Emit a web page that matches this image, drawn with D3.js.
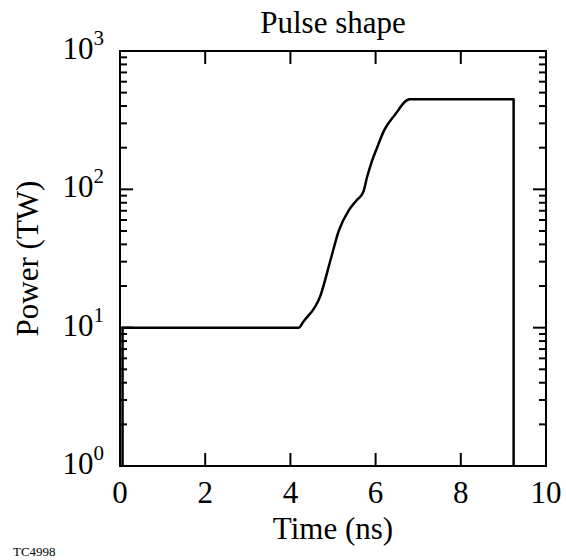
<!DOCTYPE html>
<html>
<head>
<meta charset="utf-8">
<script src="https://cdn.jsdelivr.net/npm/d3@7"></script>
<style>
  body { margin: 0; background: #fff; }
  svg { display: block; }
  text { font-family: "Liberation Serif", "Times New Roman", serif; fill: #000; }
</style>
</head>
<body>
<div id="chart"></div>
<script>
// pulse shape (time in ns, power in TW)
const timeNs = [0.06, 0.06, 4.2, 4.3, 4.71, 4.94, 5.14, 5.37, 5.55, 5.71, 5.80, 5.92, 6.04, 6.20, 6.45, 6.80, 9.24, 9.24];
const powerTW = [1, 10, 10, 11, 17.2, 30.7, 50.6, 70.5, 83, 95.6, 122.7, 162, 202, 267, 345, 447, 447, 1];
const xTicks = [0, 2, 4, 6, 8, 10];
const yDecades = [1, 10, 100, 1000];
const yExponents = ['0', '1', '2', '3'];

const W = 566, H = 560;
const margin = { left: 120, right: 20, top: 51, bottom: 94 };
const innerW = W - margin.left - margin.right;
const innerH = H - margin.top - margin.bottom;

const svg = d3.select('#chart').append('svg')
  .attr('width', W)
  .attr('height', H);

const x = d3.scaleLinear().domain([0, 10]).range([margin.left, margin.left + innerW]);
const y = d3.scaleLog().domain([1, 1000]).range([margin.top + innerH, margin.top]);

const minorTicks = [];
yDecades.slice(0, -1).forEach(d => {
  for (let k = 2; k <= 9; k++) minorTicks.push(d * k);
});

const g = svg.append('g');

// frame
g.append('rect')
  .attr('x', x(0)).attr('y', y(1000))
  .attr('width', x(10) - x(0)).attr('height', y(1) - y(1000))
  .attr('fill', 'none').attr('stroke', '#000').attr('stroke-width', 2);

const majorLen = 13, minorLen = 7;
const tickStroke = sel => sel.attr('stroke', '#000').attr('stroke-width', 2);

// x ticks, inward on bottom and top
const xInner = xTicks.slice(1, -1);
g.selectAll('line.xb').data(xInner).enter().append('line')
  .attr('x1', d => x(d)).attr('x2', d => x(d))
  .attr('y1', y(1)).attr('y2', y(1) - majorLen).call(tickStroke);
g.selectAll('line.xt').data(xInner).enter().append('line')
  .attr('x1', d => x(d)).attr('x2', d => x(d))
  .attr('y1', y(1000)).attr('y2', y(1000) + majorLen).call(tickStroke);

// y ticks, inward on left and right
const yInner = yDecades.slice(1, -1);
[[x(0), 1], [x(10), -1]].forEach(([x0, dir]) => {
  g.selectAll(null).data(yInner).enter().append('line')
    .attr('x1', x0).attr('x2', x0 + dir * majorLen)
    .attr('y1', d => y(d)).attr('y2', d => y(d)).call(tickStroke);
  g.selectAll(null).data(minorTicks).enter().append('line')
    .attr('x1', x0).attr('x2', x0 + dir * minorLen)
    .attr('y1', d => y(d)).attr('y2', d => y(d)).call(tickStroke);
});

// x tick labels
g.selectAll('text.xl').data(xTicks).enter().append('text')
  .attr('x', d => x(d)).attr('y', y(1) + 37)
  .attr('text-anchor', 'middle')
  .style('font-size', '31px')
  .text(d => d);

// y tick labels with superscript
const yl = g.selectAll('text.yl').data(yDecades).enter().append('text')
  .attr('x', x(0) - 16).attr('y', d => y(d) + 8)
  .attr('text-anchor', 'end')
  .style('font-size', '31px');
yl.append('tspan').text('10');
yl.append('tspan').attr('dy', -14).style('font-size', '21px').text((d, i) => yExponents[i]);

// titles
svg.append('text')
  .attr('x', (x(0) + x(10)) / 2).attr('y', 33)
  .attr('text-anchor', 'middle').style('font-size', '31px')
  .text('Pulse shape');
svg.append('text')
  .attr('x', (x(0) + x(10)) / 2).attr('y', 539)
  .attr('text-anchor', 'middle').style('font-size', '31px')
  .text('Time (ns)');
svg.append('text')
  .attr('transform', `translate(38,${(y(1) + y(1000)) / 2}) rotate(-90)`)
  .attr('text-anchor', 'middle').style('font-size', '31px')
  .text('Power (TW)');
svg.append('text')
  .attr('x', 13).attr('y', 556)
  .style('font-size', '13px')
  .text('TC4998');

// pulse curve
const pts = timeNs.map((t, i) => [t, powerTW[i]]);
g.append('path')
  .datum(pts)
  .attr('fill', 'none')
  .attr('stroke', '#000')
  .attr('stroke-width', 2.5)
  .attr('stroke-linejoin', 'round')
  .attr('d', d3.line().x(d => x(d[0])).y(d => y(d[1])).curve(d3.curveMonotoneX));
</script>
</body>
</html>
